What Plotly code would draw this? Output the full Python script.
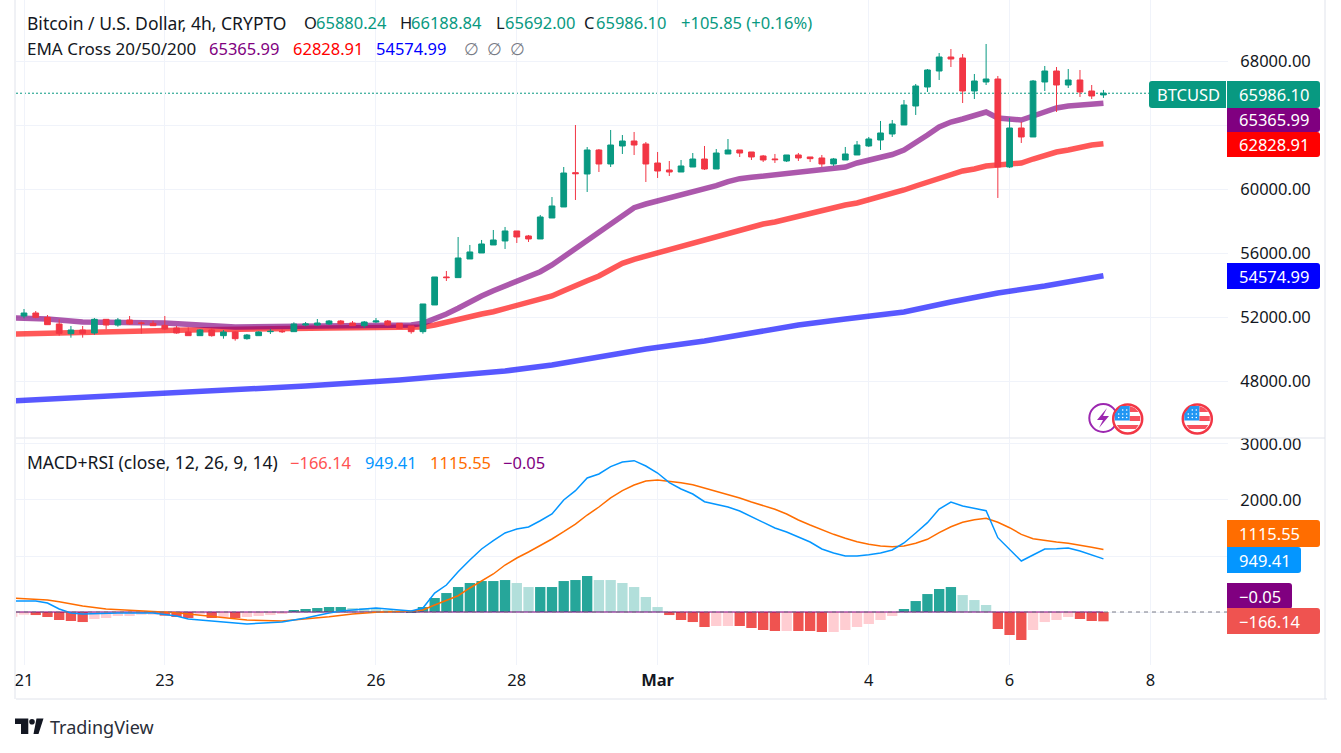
import plotly.graph_objects as go

# bars are counted from the 21 Feb tick, 6 bars a day (4h)
bars = list(range(-1, 93))
opens = [51646, 52063, 52250, 51979, 51563, 50958, 51188, 51000, 51854, 51500, 51813, 51625, 51604, 51479, 51313, 51063,
         50833, 51188, 50833, 51063, 50646, 50833, 51084, 51104, 51084, 51500, 51500, 51563, 51750, 51625, 51458, 51688,
         51750, 51604, 51438, 51085, 52752, 54501, 54460, 55626, 56001, 56501, 56751, 57376, 57064, 56876, 58188, 58876,
         61021, 60938, 62438, 61563, 62688, 63000, 62813, 61625, 61188, 61063, 61375, 61875, 61250, 62188, 62438, 62313,
         62064, 61876, 61751, 62126, 62001, 61939, 61564, 61813, 62126, 62689, 63063, 63438, 64001, 65188, 66375, 67375,
         68250, 68188, 66125, 66688, 66875, 61376, 63813, 63251, 66688, 67375, 66500, 66813, 66125, 65880.24]
highs = [52125, 52500, 52375, 52125, 51854, 51438, 51438, 51938, 51854, 51938, 52063, 51708, 51771, 52063, 51438, 51354,
         51250, 51313, 51188, 51104, 50938, 51104, 51250, 51229, 51667, 51688, 51875, 51813, 51813, 51750, 51750, 51938,
         51813, 51625, 51438, 52814, 54501, 54877, 57000, 56501, 56814, 57438, 57626, 57376, 57126, 58376, 59500, 61375,
         64000, 62625, 62500, 63688, 63375, 63563, 62938, 62313, 61750, 61813, 62250, 62688, 62500, 63125, 62438, 62313,
         62126, 62189, 62126, 62251, 62001, 62126, 61939, 62626, 63001, 63251, 64251, 64313, 65563, 66563, 67500, 68500,
         68750, 68438, 67188, 69063, 67063, 64438, 64188, 66813, 67688, 67625, 67500, 67438, 66500, 66188.84]
lows = [51646, 51917, 51917, 51500, 50833, 50708, 50708, 50896, 51229, 51396, 51500, 50958, 51438, 51188, 50958, 50833,
        50833, 50771, 50646, 50521, 50583, 50833, 50938, 51000, 51084, 51417, 51438, 51500, 51521, 51438, 51313, 51625,
        51458, 51271, 50958, 50958, 52752, 54252, 54460, 55626, 56001, 56501, 56251, 56626, 56689, 56876, 58188, 58876,
        59313, 59813, 61063, 61375, 62188, 62125, 60438, 60688, 60813, 61063, 61375, 61188, 61250, 62188, 62000, 61813,
        61689, 61626, 61689, 61751, 61689, 61376, 61439, 61813, 62126, 62626, 62439, 63251, 64001, 64626, 66063, 66813,
        67625, 65375, 65625, 66500, 59439, 61314, 62876, 63251, 66125, 64813, 66313, 65751, 65626, 65692.00]
closes = [52125, 52250, 51979, 51521, 50979, 51188, 50979, 51854, 51500, 51813, 51563, 51604, 51458, 51250, 51000, 50833,
          51188, 50833, 51063, 50646, 50875, 51063, 51104, 51084, 51563, 51563, 51625, 51750, 51563, 51458, 51688, 51750,
          51500, 51292, 51084, 52814, 54501, 54460, 55689, 56064, 56564, 56814, 57376, 57001, 56876, 58251, 58938, 61000,
          60959, 62438, 61563, 62750, 63000, 62750, 61563, 61125, 61063, 61438, 61875, 61250, 62250, 62438, 62250, 62001,
          61813, 61834, 62126, 61939, 61897, 61564, 61876, 62189, 62751, 63126, 63501, 64063, 65251, 66438, 67438, 68250,
          68125, 66125, 66750, 66875, 61376, 63813, 63251, 66750, 67375, 66500, 66813, 66063, 65813, 65986.10]

ema20_x = [-1, 2, 5, 12, 18, 26, 33] + list(range(34, 93))
ema20 = [51938, 51875, 51688, 51625, 51375, 51438, 51500,
         51606, 51875, 52188, 52544, 52956, 53312, 53644, 53938, 54206, 54481, 54831, 55250, 55769, 56294, 56812, 57269,
         57812, 58375, 58831, 59062, 59250, 59456, 59625, 59812, 59981, 60206, 60456, 60644, 60731, 60812, 60906, 61000,
         61094, 61188, 61250, 61312, 61375, 61625, 61781, 61938, 62156, 62438, 62875, 63375, 63875, 64188, 64375, 64562,
         64812, 64438, 64375, 64312, 64562, 64812, 65063, 65188, 65250, 65312, 65365.99]
ema50_x = [-1, 8, 14, 26, 33, 34, 35] + list(range(36, 93))
ema50 = [50937, 51125, 51188, 51312, 51375, 51375, 51500,
         51688, 51875, 52019, 52188, 52331, 52519, 52706, 52894, 53106, 53312, 53644, 54000, 54269, 54562, 54981, 55356,
         55606, 55812, 56019, 56188, 56394, 56562, 56769, 56981, 57188, 57375, 57606, 57812, 57938, 58125, 58312, 58500,
         58688, 58875, 59000, 59125, 59312, 59500, 59688, 59938, 60188, 60438, 60688, 60938, 61125, 61250, 61438, 61500,
         61531, 61625, 61875, 62125, 62312, 62438, 62625, 62750, 62828.91]
ema200_x = [-1, 7, 15, 24, 32, 36, 41, 45, 49, 53, 58, 62, 66, 70, 75, 79, 83, 87, 92]
ema200 = [46750, 47062, 47312, 47688, 48062, 48312, 48625, 49000, 49500, 50000, 50500, 51000, 51500, 51875, 52312, 52938,
          53500, 53938, 54574.99]

hist = [-83, -48, -54, -89, -143, -161, -179, -125, -107, -71, -71, -48, -48, -65, -89, -107, -24, -107, -89, -107, -89,
        -71, -54, -36, 36, 54, 71, 89, 89, 71, 71, 54, 36, 24, 18, 89, 250, 339, 446, 518, 553, 553, 571, 518, 446, 446,
        446, 553, 571, 643, 571, 571, 518, 446, 268, 89, -54, -143, -179, -268, -250, -250, -250, -286, -321, -339, -339,
        -339, -339, -357, -357, -321, -268, -214, -143, -71, 54, 196, 321, 411, 446, 303, 214, 125, -303, -411, -500,
        -321, -179, -143, -89, -125, -161, -166.14]
# D = strong colour, L = faded colour
hist_shade = "LLDDDDDLLLLLLDDDLDLDLLLLDDDDDLLLLLDDDDDDDDDLLDDDDDLLLLLLDDDDLLDDDDLDDDLLLLLLDDDDDLLLDDDLLLLDDD"

macd_x = [-1, 1, 2, 3, 4, 5, 8, 11, 13, 14, 16, 19, 22, 24, 26, 27, 30, 31, 33] + list(range(34, 93))
macd = [196, 196, 161, 54, -18, -36, -18, -18, -71, -125, -161, -214, -179, -107, -18, 18, 71, 54, 18,
        71, 339, 482, 720, 929, 1125, 1273, 1411, 1482, 1518, 1630, 1750, 2000, 2166, 2393, 2464, 2595, 2679, 2702, 2607,
        2482, 2309, 2196, 2107, 1970, 1929, 1875, 1804, 1702, 1607, 1500, 1429, 1339, 1250, 1125, 1054, 1000, 1000, 1023,
        1054, 1107, 1232, 1411, 1595, 1839, 1964, 1893, 1857, 1809, 1327, 1125, 911, 1018, 1125, 1130, 1143, 1089, 1018,
        949.41]
signal_x = [-1, 1, 2, 3, 5, 7, 11, 13, 14, 16, 19, 22, 24, 26, 28, 30, 33] + list(range(34, 93))
signal = [250, 232, 214, 184, 107, 54, 18, -13, -36, -84, -143, -161, -125, -84, -36, -5, 18,
          36, 125, 202, 291, 429, 554, 679, 839, 964, 1071, 1184, 1304, 1434, 1571, 1732, 1875, 2036, 2166, 2268, 2339, 2357,
          2339, 2309, 2273, 2214, 2161, 2095, 2036, 1964, 1898, 1834, 1750, 1643, 1554, 1464, 1387, 1316, 1255, 1209, 1179,
          1166, 1179, 1227, 1298, 1416, 1523, 1602, 1648, 1673, 1602, 1505, 1387, 1309, 1273, 1250, 1227, 1196, 1155,
          1115.55]
rsi_flat = [-0.05] * len(bars)

x_ticks = [0, 12, 30, 42, 54, 72, 84, 96]
x_labels = ["21", "23", "26", "28", "<b>Mar</b>", "4", "6", "8"]
price_ticks = [48000, 52000, 56000, 60000, 64000, 68000]
price_labels = ["48000.00", "52000.00", "56000.00", "60000.00", "", "68000.00"]
macd_ticks = [0, 1000, 2000, 3000]
macd_labels = ["", "", "2000.00", "3000.00"]

W, H = 1341, 753
GREEN, RED = "#089981", "#F23645"
BLUE, ORANGE, PURPLE = "#0496FF", "#FF6D00", "#800080"
TEXT = "#131722"
FONT = "Noto Sans"
FS = 16.5
GRID = "#F0F3FA"
BORDER = "#E0E3EB"


def px(x):
    return x / W


def py(y):
    return 1 - y / H


fig = go.Figure()
for xs, ys, col in [(ema200_x, ema200, "#0000FF"), (ema50_x, ema50, "#FF0000"), (ema20_x, ema20, PURPLE)]:
    fig.add_trace(go.Scatter(x=xs, y=ys, mode="lines", line=dict(color=col, width=5.5), opacity=0.65,
                             xaxis="x", yaxis="y", hoverinfo="skip"))
fig.add_trace(go.Candlestick(x=bars, open=opens, high=highs, low=lows, close=closes, xaxis="x3", yaxis="y3",
                             whiskerwidth=0, hoverinfo="skip",
                             increasing=dict(line=dict(color=GREEN, width=1), fillcolor=GREEN),
                             decreasing=dict(line=dict(color=RED, width=1), fillcolor=RED)))

shade_map = {(True, "D"): "#26A69A", (True, "L"): "#B2DFDB", (False, "D"): "#EF5350", (False, "L"): "#FFCDD2"}
hist_colors = [shade_map[(v >= 0, s)] for v, s in zip(hist, hist_shade)]
fig.add_trace(go.Bar(x=bars, y=hist, marker=dict(color=hist_colors, line=dict(width=0)), width=0.88,
                     xaxis="x2", yaxis="y2", hoverinfo="skip"))
fig.add_trace(go.Scatter(x=bars, y=rsi_flat, mode="lines", line=dict(color=PURPLE, width=2), opacity=0.5,
                         xaxis="x2", yaxis="y2", hoverinfo="skip"))
fig.add_trace(go.Scatter(x=signal_x, y=signal, mode="lines", line=dict(color=ORANGE, width=1.5),
                         xaxis="x2", yaxis="y2", hoverinfo="skip"))
fig.add_trace(go.Scatter(x=macd_x, y=macd, mode="lines", line=dict(color=BLUE, width=1.5),
                         xaxis="x2", yaxis="y2", hoverinfo="skip"))

plot_left, plot_right = 16, 1228
x_range = [(plot_left - 24) / 11.733, (plot_right - 24) / 11.733]
x_dom = [px(plot_left), px(plot_right)]
tick_font = dict(family=FONT, size=FS, color=TEXT)
clear = "rgba(0,0,0,0)"

shapes = []
annots = []


def hline(y, x0=plot_left, x1=1325, color=BORDER, width=1):
    shapes.append(dict(type="line", xref="paper", yref="paper", x0=px(x0), x1=px(x1), y0=py(y), y1=py(y),
                       line=dict(color=color, width=width)))


def vline(x, y0, y1):
    shapes.append(dict(type="line", xref="paper", yref="paper", x0=px(x), x1=px(x), y0=py(y0), y1=py(y1),
                       line=dict(color=BORDER, width=1)))


def label(x, y, text, color=TEXT, size=FS):
    annots.append(dict(xref="paper", yref="paper", x=px(x), y=py(y), text=text, showarrow=False, xanchor="left",
                       yanchor="middle", borderpad=0, borderwidth=0, font=dict(family=FONT, size=size, color=color)))


def tag(x0, x1, y0, y1, color, text, round_left=False):
    l = 3 if round_left else 0
    r = 0 if round_left else 3
    path = (f"M {px(x0 + l)} {py(y0)} L {px(x1 - r)} {py(y0)} Q {px(x1)} {py(y0)} {px(x1)} {py(y0 + r)} "
            f"L {px(x1)} {py(y1 - r)} Q {px(x1)} {py(y1)} {px(x1 - r)} {py(y1)} L {px(x0 + l)} {py(y1)} "
            f"Q {px(x0)} {py(y1)} {px(x0)} {py(y1 - l)} L {px(x0)} {py(y0 + l)} Q {px(x0)} {py(y0)} {px(x0 + l)} {py(y0)} Z")
    shapes.append(dict(type="path", xref="paper", yref="paper", path=path, fillcolor=color, line=dict(width=0)))
    label(x0 + (8 if round_left else 12), (y0 + y1) / 2, text, color="white")


def circle(cx, cy, r, fill, edge, width):
    shapes.append(dict(type="circle", xref="paper", yref="paper", x0=px(cx - r), x1=px(cx + r), y0=py(cy - r), y1=py(cy + r),
                       fillcolor=fill, line=dict(color=edge, width=width)))


def poly(points, fill):
    path = "M " + " L ".join(f"{px(a)} {py(b)}" for a, b in points) + " Z"
    shapes.append(dict(type="path", xref="paper", yref="paper", path=path, fillcolor=fill, line=dict(width=0)))


def flag(cx, cy):
    circle(cx, cy, 14.5, "white", "#F23645", 2.5)
    poly([(cx + 2, cy - 13), (cx + 7, cy - 11), (cx + 11, cy - 7), (cx + 2, cy - 7)], "#F7525F")
    poly([(cx + 2, cy - 3), (cx + 12.5, cy - 3), (cx + 12.5, cy + 2), (cx + 2, cy + 2)], "#F7525F")
    poly([(cx - 11, cy + 6), (cx + 11, cy + 6), (cx + 8, cy + 10), (cx - 8, cy + 10)], "#F7525F")
    poly([(cx - 7, cy - 13), (cx + 2, cy - 13), (cx + 2, cy + 1.5), (cx - 13, cy + 1.5), (cx - 13, cy - 5)], "#2196F3")
    for dx, dy in [(-5, -9), (-1, -9), (-9, -5), (-5, -5), (-1, -5), (-9, -1.5), (-5, -1.5), (-1, -1.5)]:
        circle(cx + dx, cy + dy, 0.8, "white", "white", 0)


# panes and frame
hline(438)
hline(699, x1=1327)
vline(15, 0, 699)
vline(1325, 0, 699)
shapes.append(dict(type="line", xref="paper", yref="y", x0=px(plot_left), x1=px(plot_right), y0=closes[-1], y1=closes[-1],
                   layer="below", line=dict(color=GREEN, width=1, dash="2px,2px")))
shapes.append(dict(type="line", xref="paper", yref="y2", x0=px(plot_left), x1=px(plot_right), y0=0, y1=0,
                   line=dict(color="#787B86", width=1, dash="4px,4px")))

# price tags on the scale
tag(1149, 1226, 81, 108, GREEN, "BTCUSD", round_left=True)
tag(1227, 1320, 81, 108, GREEN, "65986.10")
tag(1227, 1320, 108, 132, PURPLE, "65365.99")
tag(1227, 1320, 132, 157, "#FF0000", "62828.91")
tag(1227, 1320, 263, 289, "#0000FF", "54574.99")
tag(1227, 1320, 520, 547, ORANGE, "1115.55")
tag(1227, 1301, 547, 573, BLUE, "949.41")
tag(1227, 1292, 583, 609, PURPLE, "−0.05")
tag(1227, 1320, 608, 634, "#EF5350", "−166.14")

# event markers
circle(1103.3, 418, 14, "white", "#9C27B0", 2)
poly([(1107, 408), (1097, 420), (1103, 420), (1099, 428), (1109, 416), (1103, 416)], "#9C27B0")
flag(1127.7, 419)
flag(1197.3, 419)

# TradingView mark
poly([(15, 718.5), (28.3, 718.5), (28.3, 734), (21, 734), (21, 724), (15, 724)], TEXT)
circle(32, 721.7, 2.8, TEXT, TEXT, 0)
poly([(36.5, 718.5), (43.5, 718.5), (38.5, 734), (33.5, 734)], TEXT)
label(50, 727, "TradingView", color="#2A2E39", size=18)

# legend rows
label(27, 23, "Bitcoin / U.S. Dollar, 4h, CRYPTO", size=17.5)
for x, letter, value, lx in [(304, "O", "65880.24", 316), (400, "H", "66188.84", 411), (496, "L", "65692.00", 505),
                             (584, "C", "65986.10", 596)]:
    label(x, 23, letter)
    label(lx, 23, value, GREEN)
label(681, 23, "+105.85 (+0.16%)", GREEN)

label(27, 49, "EMA Cross 20/50/200", size=17)
label(209, 49, "65365.99", PURPLE)
label(293, 49, "62828.91", "#FF0000")
label(376, 49, "54574.99", "#0000FF")
for x in [464, 487, 510]:
    label(x, 49, "∅", "#787B86")

label(27, 462, "MACD+RSI (close, 12, 26, 9, 14)", size=17.5)
label(290, 462, "−166.14", "#FF5252")
label(365, 462, "949.41", BLUE)
label(430, 462, "1115.55", ORANGE)
label(503, 462, "−0.05", PURPLE)

fig.update_layout(
    width=W, height=H, margin=dict(l=0, r=0, t=0, b=0, autoexpand=False), showlegend=False,
    paper_bgcolor="white", plot_bgcolor="white", barmode="overlay",
    xaxis=dict(domain=x_dom, range=x_range, anchor="y", tickmode="array", tickvals=x_ticks, showticklabels=False,
               showgrid=True, gridcolor=GRID, zeroline=False, ticks=""),
    yaxis=dict(domain=[py(438), 1], range=[44437.5, 71812.5], side="right", anchor="x", tickmode="array",
               tickvals=price_ticks, ticktext=price_labels, showgrid=True, gridcolor=GRID, zeroline=False,
               ticks="outside", ticklen=8, tickcolor=clear, tickfont=tick_font),
    xaxis2=dict(domain=x_dom, range=x_range, anchor="y2", tickmode="array", tickvals=x_ticks, ticktext=x_labels,
                showgrid=True, gridcolor=GRID, zeroline=False, ticks="outside", ticklen=0, tickcolor=clear, tickfont=tick_font),
    yaxis2=dict(domain=[py(665), py(439)], range=[-946, 3089], side="right", anchor="x2", tickmode="array",
                tickvals=macd_ticks, ticktext=macd_labels, showgrid=True, gridcolor=GRID, zeroline=False,
                ticks="outside", ticklen=8, tickcolor=clear, tickfont=tick_font),
    xaxis3=dict(domain=x_dom, range=x_range, overlaying="x", anchor="y3", visible=False, rangeslider=dict(visible=False)),
    yaxis3=dict(domain=[py(438), 1], range=[44437.5, 71812.5], overlaying="y", anchor="x3", side="right", visible=False),
    shapes=shapes, annotations=annots,
)

fig.write_html("out.html", config=dict(displayModeBar=False), post_script="document.body.style.margin='0';")
